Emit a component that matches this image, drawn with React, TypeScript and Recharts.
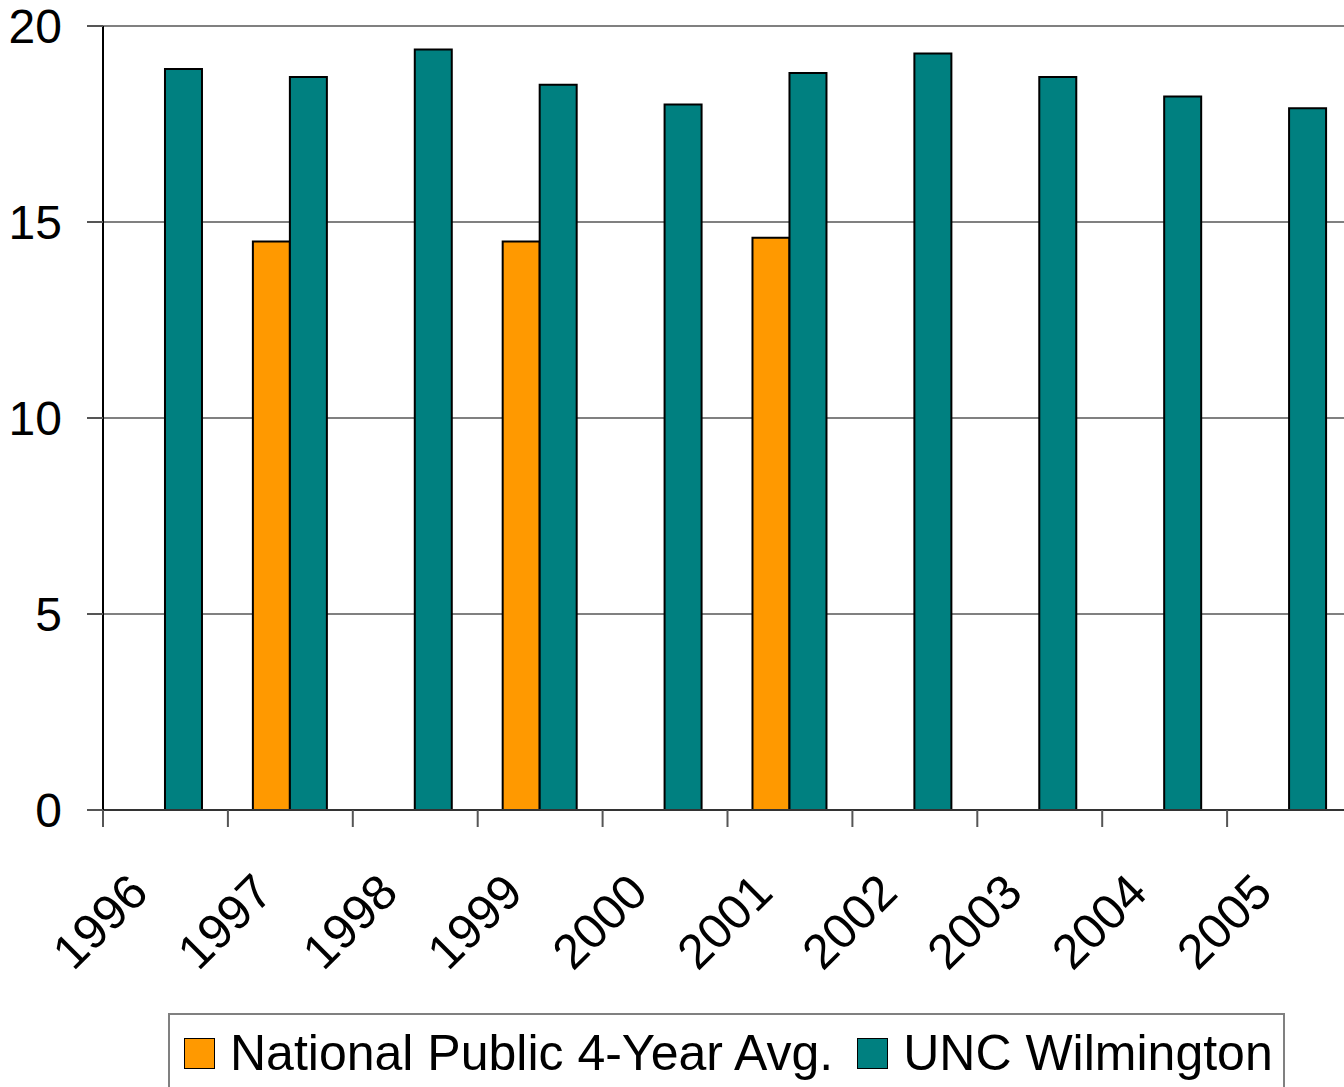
import React from 'react';
import { BarChart, Bar, XAxis, YAxis, CartesianGrid, Legend } from 'recharts';

const years = ['1996', '1997', '1998', '1999', '2000', '2001', '2002', '2003', '2004', '2005'];
const nationalAvg: (number | null)[] = [null, 14.5, null, 14.5, null, 14.6, null, null, null, null];
const uncWilmington = [18.9, 18.7, 19.4, 18.5, 18.0, 18.8, 19.3, 18.7, 18.2, 17.9];
const yTicks = [0, 5, 10, 15, 20];

const ORANGE = '#FF9900';
const TEAL = '#008080';
const FONT = 'Arial, "Liberation Sans", sans-serif';

const data = years.map((year, i) => ({
  year,
  national: nationalAvg[i],
  unc: uncWilmington[i],
}));

// category label, plus the Excel-style tick mark on the band's left edge
function YearTick(props: any) {
  const { x, y, payload } = props;
  const edge = x - (payload.offset || 0);
  const axisY = y - 8;
  return (
    <g>
      <line x1={edge} x2={edge} y1={axisY} y2={axisY + 17} stroke="#555" strokeWidth={2} />
      <g transform={`translate(${x - 15},${y + 77})`}>
        <text x={0} y={0} textAnchor="end" transform="rotate(-45)" fontSize={49} fontFamily={FONT} fill="#000">
          {payload.value}
        </text>
      </g>
    </g>
  );
}

function LegendBox() {
  const item = (color: string, label: string) => (
    <div style={{ display: 'flex', alignItems: 'center', marginRight: 24, flexShrink: 0 }}>
      <div style={{ width: 29, height: 29, background: color, border: '1.5px solid #000', marginRight: 15, flexShrink: 0 }} />
      <span style={{ fontSize: 50, lineHeight: '50px', fontFamily: FONT, color: '#000', whiteSpace: 'nowrap' }}>{label}</span>
    </div>
  );
  return (
    <div
      style={{
        boxSizing: 'border-box',
        width: 1117,
        height: 110,
        border: '2px solid #808080',
        background: '#fff',
        display: 'flex',
        alignItems: 'flex-start',
        paddingLeft: 14,
        paddingTop: 13,
        overflow: 'visible',
      }}
    >
      {item(ORANGE, 'National Public 4-Year Avg.')}
      {item(TEAL, 'UNC Wilmington')}
    </div>
  );
}

export default function App() {
  return (
    <div style={{ position: 'absolute', left: 0, top: 0, width: 1344, height: 1087, overflow: 'hidden', background: '#fff' }}>
      <BarChart
        width={1400}
        height={1087}
        data={data}
        margin={{ top: 26, right: 48, bottom: 127, left: 0 }}
        barCategoryGap="20%"
        barGap={0}
      >
        <CartesianGrid vertical={false} stroke="#808080" strokeWidth={2} />
        <XAxis
          dataKey="year"
          height={150}
          interval={0}
          tickLine={false}
          axisLine={{ stroke: '#333', strokeWidth: 2 }}
          tick={<YearTick />}
        />
        <YAxis
          width={103}
          domain={[0, 20]}
          ticks={yTicks}
          interval={0}
          tickSize={16}
          tickMargin={25}
          axisLine={{ stroke: '#000', strokeWidth: 2 }}
          tickLine={{ stroke: '#555', strokeWidth: 2 }}
          tick={{ fontSize: 48, fontFamily: FONT, fill: '#000' }}
        />
        <Legend
          verticalAlign="middle"
          align="center"
          layout="horizontal"
          wrapperStyle={{ left: 168, top: 1013, width: 1117 }}
          content={() => <LegendBox />}
        />
        <Bar dataKey="national" name="National Public 4-Year Avg." fill={ORANGE} stroke="#000" strokeWidth={2} isAnimationActive={false} />
        <Bar dataKey="unc" name="UNC Wilmington" fill={TEAL} stroke="#000" strokeWidth={2} isAnimationActive={false} />
      </BarChart>
    </div>
  );
}
